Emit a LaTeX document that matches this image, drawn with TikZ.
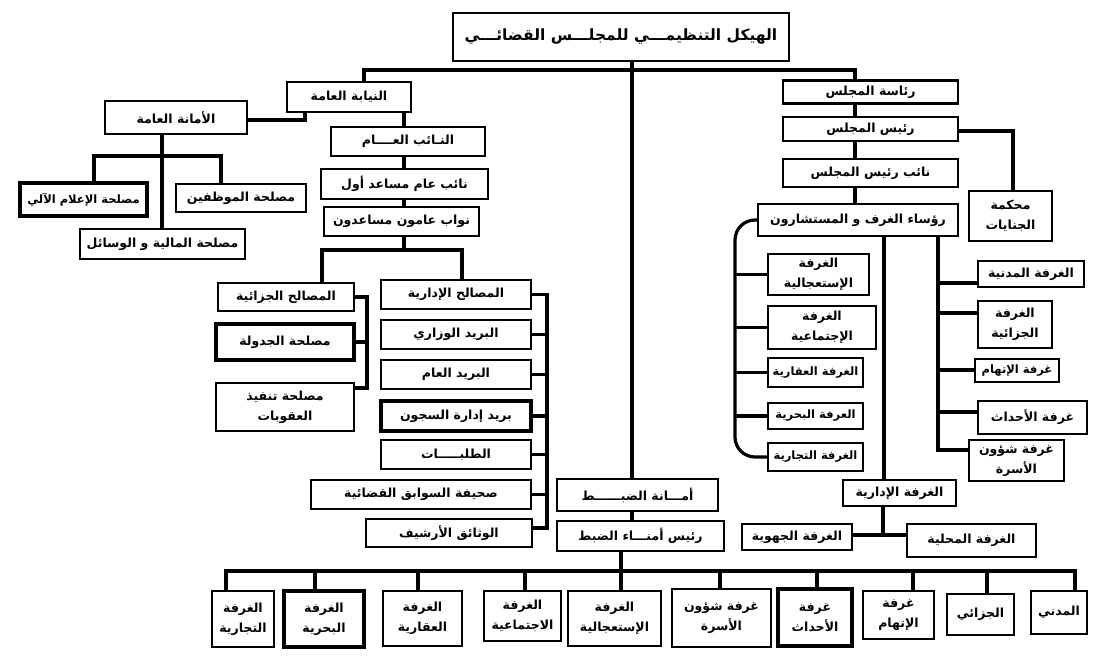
\documentclass[tikz,border=0pt]{standalone}
\usepackage{fontspec}
\newfontfamily\arabicfont[Script=Arabic]{DejaVu Sans}
\TeXXeTstate=1
\newcommand\arx[1]{\beginR #1\endR}
\begin{document}
\begin{tikzpicture}[x=1pt,y=-1pt,
  bx/.style={draw, line width=2.4pt, fill=white, inner sep=1pt, align=center,
    font=\arabicfont\bfseries\fontsize{12.5}{20}\selectfont},
  tbx/.style={bx, line width=3.4pt},
  tf/.style={font=\arabicfont\bfseries\fontsize{11.5}{18}\selectfont},
  sz/.style 2 args={minimum width=#1pt, minimum height=#2pt},
  ln/.style={line width=3.2pt}]
\useasboundingbox (0,0) rectangle (1104,664);
\fill[white] (0,0) rectangle (1104,664);

% ---- title
\node[bx, sz={336}{48}, font=\arabicfont\bfseries\fontsize{15.5}{20}\selectfont] (title) at (621,37) {\arx{الهيكل التنظيمـــي للمجلـــس القضائـــي}};

% ---- left side
\node[bx, sz={124}{30}] (niyaba) at (349,97) {\arx{النيابة العامة}};
\node[bx, sz={142}{33}] (amana) at (176,117.5) {\arx{الأمانة العامة}};
\node[tbx, tf, sz={127}{33}] (ilam) at (83.5,199.5) {\arx{مصلحة الإعلام الآلي}};
\node[bx, sz={130}{28}] (muwaz) at (241,198) {\arx{مصلحة الموظفين}};
\node[bx, sz={165}{30}] (maliya) at (162.5,244) {\arx{مصلحة المالية و الوسائل}};
\node[bx, sz={154}{29}] (naib) at (408,141.5) {\arx{النـائب العــــام}};
\node[bx, sz={167}{30}] (naibone) at (404.5,184) {\arx{نائب عام مساعد أول}};
\node[bx, sz={155}{29}] (nuwab) at (401.5,221.5) {\arx{نواب عامون مساعدون}};

\node[bx, sz={136}{28}] (jazaiya) at (286,297) {\arx{المصالح الجزائية}};
\node[tbx, sz={138}{36}] (jadwala) at (285,342) {\arx{مصلحة الجدولة}};
\node[bx, sz={138}{48}] (tanfid) at (285,407) {\arx{مصلحة تنفيذ}\\\arx{العقوبات}};

\node[bx, sz={150}{29}] (idariya) at (456,294.5) {\arx{المصالح الإدارية}};
\node[bx, sz={150}{29}] (wizari) at (456,334.5) {\arx{البريد الوزاري}};
\node[bx, sz={150}{29}] (barid) at (456,374.5) {\arx{البريد العام}};
\node[tbx, sz={150}{30}] (sujun) at (456,416) {\arx{بريد إدارة السجون}};
\node[bx, sz={150}{29}] (talabat) at (456,454.5) {\arx{الطلبـــــات}};
\node[bx, sz={220}{29}] (sahifa) at (421,494.5) {\arx{صحيفة السوابق القضائية}};
\node[bx, sz={166}{28}] (wathaiq) at (449,533) {\arx{الوثائق الأرشيف}};

% ---- centre
\node[bx, sz={161}{32}] (amanat) at (637.5,495) {\arx{أمـــانة الضبــــــط}};
\node[bx, sz={167}{30}] (raisam) at (640.5,536) {\arx{رئيس أمنـــاء الضبط}};

% ---- bottom row
\node[bx, sz={62}{56}] (btij) at (243,619) {\arx{الغرفة}\\\arx{التجارية}};
\node[tbx, sz={80}{56}] (bbah) at (324,619) {\arx{الغرفة}\\\arx{البحرية}};
\node[bx, sz={79}{55}] (baqr) at (422.5,618.5) {\arx{الغرفة}\\\arx{العقارية}};
\node[bx, sz={77}{50}] (bijt) at (522.5,616) {\arx{الغرفة}\\\arx{الاجتماعية}};
\node[bx, sz={93}{55}] (bist) at (614.5,618.5) {\arx{الغرفة}\\\arx{الإستعجالية}};
\node[bx, sz={99}{58}] (busra) at (721.5,618) {\arx{غرفة شؤون}\\\arx{الأسرة}};
\node[tbx, sz={74}{57}] (bahd) at (815,617.5) {\arx{غرفة}\\\arx{الأحداث}};
\node[bx, sz={71}{48}] (bith) at (898.5,615) {\arx{غرفة}\\\arx{الإتهام}};
\node[bx, sz={67}{41}] (bjaz) at (980.5,614.5) {\arx{الجزائي}};
\node[bx, sz={56}{43}] (bmad) at (1059,612.5) {\arx{المدني}};

% ---- right side
\node[bx, sz={175}{23}] (riasa) at (870.5,92) {\arx{رئاسة المجلس}};
\node[bx, sz={175}{24}] (rais) at (870.5,129) {\arx{رئيس المجلس}};
\node[bx, sz={175}{28}] (naibr) at (870.5,173) {\arx{نائب  رئيس المجلس}};
\node[bx, sz={83}{50}] (mahkama) at (1010.5,216) {\arx{محكمة}\\\arx{الجنايات}};
\node[bx, sz={200}{32}] (ruasa) at (858,220) {\arx{رؤساء الغرف و المستشارون}};

\node[bx, sz={101}{41}] (rist) at (818.5,274.5) {\arx{الغرفة}\\\arx{الإستعجالية}};
\node[bx, sz={108}{43}] (rijt) at (822,327.5) {\arx{الغرفة}\\\arx{الإجتماعية}};
\node[bx, tf, sz={95}{29}] (raqr) at (815.5,372.5) {\arx{الغرفة العقارية}};
\node[bx, tf, sz={95}{26}] (rbah) at (815.5,416) {\arx{العرفة البحرية}};
\node[bx, tf, sz={95}{28}] (rtij) at (815.5,457) {\arx{الغرفة التجارية}};

\node[bx, sz={106}{26}] (rmad) at (1031,274) {\arx{الغرفة المدنية}};
\node[bx, sz={74}{47}] (rjaz) at (1015,324.5) {\arx{الغرفة}\\\arx{الجزائية}};
\node[bx, tf, sz={84}{23}] (rith) at (1017,370.5) {\arx{غرفة الإتهام}};
\node[bx, sz={109}{33}] (rahd) at (1032.5,417.5) {\arx{غرفة الأحداث}};
\node[bx, sz={95}{41}] (rusra) at (1016.5,460.5) {\arx{غرفة شؤون}\\\arx{الأسرة}};

\node[bx, sz={113}{26}] (idr) at (899.5,493) {\arx{الغرفة  الإدارية}};
\node[bx, sz={110}{26}] (jihawiya) at (797,537) {\arx{الغرفة الجهوية}};
\node[bx, sz={129}{33}] (mahalliya) at (971.5,540.5) {\arx{الغرفة المحلية}};

% ---- connector coordinates
\coordinate (tL) at (364,70);
\coordinate (tR) at (855,70);
\coordinate (cv) at (632,70);
\coordinate (barL) at (226,571);
\coordinate (barR) at (1075,571);
\coordinate (bv) at (621,571);
\coordinate (v1) at (315,571);
\coordinate (v2) at (418,571);
\coordinate (v3) at (525,571);
\coordinate (v4) at (720,571);
\coordinate (v5) at (817,571);
\coordinate (v6) at (913,571);
\coordinate (v7) at (987,571);
\coordinate (na) at (305,120);
\coordinate (nv) at (404,250);
\coordinate (jL) at (322,250);
\coordinate (jR) at (462,250);
\coordinate (av) at (162,156);
\coordinate (aL) at (94,156);
\coordinate (aR) at (221,156);
\coordinate (lbB) at (367,388);
\coordinate (rbB) at (547,528);
\coordinate (mk) at (1013,131);
\coordinate (bl) at (735,340);
\coordinate (rv) at (938,450);
\coordinate (ta) at (938,283);
\coordinate (tb) at (938,313);
\coordinate (tc) at (938,370);
\coordinate (td) at (938,412);
\coordinate (iv) at (884,300);
\coordinate (ij) at (883,535);

% ---- connectors
\draw[ln] (tL |- niyaba.north) -- (tL) -- (tR) -- (tR |- riasa.north);
\draw[ln] (cv |- title.south) -- (cv |- amanat.north);
\draw[ln] (cv |- amanat.south) -- (cv |- raisam.north);
\draw[ln] (barL |- btij.north) -- (barL) -- (barR) -- (barR |- bmad.north);
\draw[ln] (bv |- raisam.south) -- (bv |- bist.north);
\draw[ln] (v1) -- (v1 |- bbah.north);
\draw[ln] (v2) -- (v2 |- baqr.north);
\draw[ln] (v3) -- (v3 |- bijt.north);
\draw[ln] (v4) -- (v4 |- busra.north);
\draw[ln] (v5) -- (v5 |- bahd.north);
\draw[ln] (v6) -- (v6 |- bith.north);
\draw[ln] (v7) -- (v7 |- bjaz.north);

\draw[ln] (na |- niyaba.south) -- (na) -- (amana.east |- na);
\draw[ln] (nv |- niyaba.south) -- (nv |- naib.north);
\draw[ln] (nv |- naib.south) -- (nv |- naibone.north);
\draw[ln] (nv |- naibone.south) -- (nv |- nuwab.north);
\draw[ln] (nv |- nuwab.south) -- (nv);
\draw[ln] (jL |- jazaiya.north) -- (jL) -- (jR) -- (jR |- idariya.north);
\draw[ln] (av |- amana.south) -- (av |- maliya.north);
\draw[ln] (aL |- ilam.north) -- (aL) -- (aR) -- (aR |- muwaz.north);

\draw[ln] (jazaiya.east) -| (lbB) -- (tanfid.east |- lbB);
\draw[ln] (jadwala.east) -- (jadwala.east -| lbB);

\draw[ln] (idariya.east) -| (rbB) -- (wathaiq.east |- rbB);
\draw[ln] (wizari.east) -- (wizari.east -| rbB);
\draw[ln] (barid.east) -- (barid.east -| rbB);
\draw[ln] (sujun.east) -- (sujun.east -| rbB);
\draw[ln] (talabat.east) -- (talabat.east -| rbB);
\draw[ln] (sahifa.east) -- (sahifa.east -| rbB);

\draw[ln] (tR |- riasa.south) -- (tR |- rais.north);
\draw[ln] (tR |- rais.south) -- (tR |- naibr.north);
\draw[ln] (tR |- naibr.south) -- (tR |- ruasa.north);
\draw[ln] (rais.east |- mk) -- (mk) -- (mk |- mahkama.north);

\draw[ln, rounded corners=20pt] (ruasa.west) -| (bl) |- (rtij.west);
\draw[ln] (rist.west) -- (rist.west -| bl);
\draw[ln] (rijt.west) -- (rijt.west -| bl);
\draw[ln] (raqr.west) -- (raqr.west -| bl);
\draw[ln] (rbah.west) -- (rbah.west -| bl);

\draw[ln] (rv |- ruasa.south) -- (rv) -- (rusra.west |- rv);
\draw[ln] (ta) -- (rmad.west |- ta);
\draw[ln] (tb) -- (rjaz.west |- tb);
\draw[ln] (tc) -- (rith.west |- tc);
\draw[ln] (td) -- (rahd.west |- td);

\draw[ln] (iv |- ruasa.south) -- (iv |- idr.north);
\draw[ln] (ij |- idr.south) -- (ij);
\draw[ln] (jihawiya.east |- ij) -- (mahalliya.west |- ij);
\end{tikzpicture}
\end{document}
